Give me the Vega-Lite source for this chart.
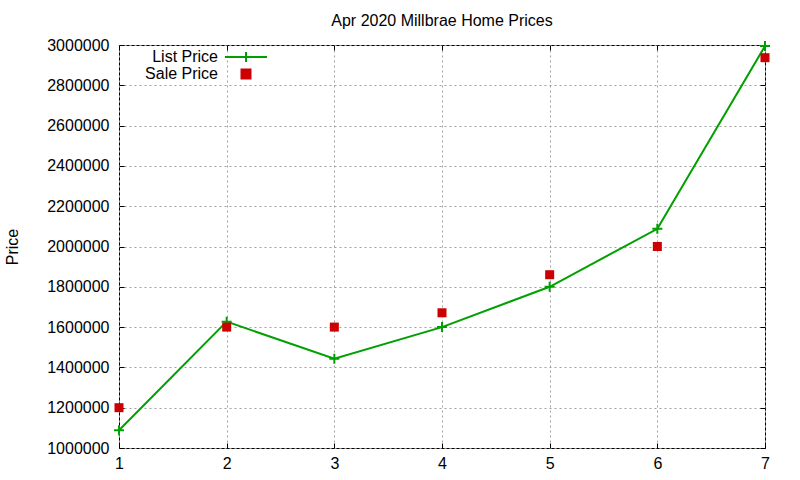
{
  "$schema": "https://vega.github.io/schema/vega-lite/v6.json",
  "width": 646,
  "height": 403,
  "autosize": "none",
  "padding": {"left": 119, "top": 45, "right": 35, "bottom": 32},
  "background": "white",
  "title": {"text": "Apr 2020 Millbrae Home Prices", "fontSize": 16, "fontWeight": "normal", "font": "Liberation Sans", "color": "black", "offset": 8},
  "config": {
    "view": {"stroke": "black", "strokeWidth": 1},
    "axis": {
      "labelFont": "Liberation Sans", "labelFontSize": 16, "labelColor": "black",
      "titleFont": "Liberation Sans", "titleFontSize": 16, "titleFontWeight": "normal", "titleColor": "black",
      "tickColor": "black", "tickSize": -5, "domain": false,
      "gridColor": "#a0a0a0", "gridDash": [2, 3], "gridOpacity": 1
    }
  },
  "data": {
    "values": [
      {"x": 1, "price": 1088000, "series": "List Price"},
      {"x": 2, "price": 1627000, "series": "List Price"},
      {"x": 3, "price": 1443000, "series": "List Price"},
      {"x": 4, "price": 1600000, "series": "List Price"},
      {"x": 5, "price": 1800000, "series": "List Price"},
      {"x": 6, "price": 2088000, "series": "List Price"},
      {"x": 7, "price": 2995000, "series": "List Price"},
      {"x": 1, "price": 1200000, "series": "Sale Price"},
      {"x": 2, "price": 1600000, "series": "Sale Price"},
      {"x": 3, "price": 1600000, "series": "Sale Price"},
      {"x": 4, "price": 1671000, "series": "Sale Price"},
      {"x": 5, "price": 1860000, "series": "Sale Price"},
      {"x": 6, "price": 2000000, "series": "Sale Price"},
      {"x": 7, "price": 2937000, "series": "Sale Price"}
    ]
  },
  "encoding": {
    "x": {
      "field": "x", "type": "quantitative",
      "scale": {"domain": [1, 7], "nice": false, "zero": false}
    },
    "y": {
      "field": "price", "type": "quantitative",
      "scale": {"domain": [1000000, 3000000], "nice": false, "zero": false}
    },
    "color": {
      "field": "series", "type": "nominal",
      "scale": {"domain": ["List Price", "Sale Price"], "range": ["#00a000", "#cc0000"]},
      "legend": {
        "title": null, "orient": "none", "legendX": 119, "legendY": 4,
        "padding": 0, "symbolSize": 100, "rowPadding": -2,
        "labelAlign": "right", "labelOffset": -36,
        "labelFont": "Liberation Sans", "labelFontSize": 16, "labelColor": "black",
        "encode": {
          "symbols": {
            "update": {
              "shape": {"signal": "datum.value === 'List Price' ? 'M-4.2,0H4.2M0,-1V1' : 'M-0.9,-0.9H0.9V0.9H-0.9Z'"},
              "fill": {"signal": "datum.value === 'List Price' ? 'transparent' : '#cc0000'"},
              "stroke": {"signal": "datum.value === 'List Price' ? '#00a000' : '#cc0000'"},
              "strokeWidth": {"value": 2},
              "opacity": {"value": 1}
            }
          }
        }
      }
    }
  },
  "layer": [
    {
      "transform": [{"filter": "datum.series === 'List Price'"}],
      "mark": {
        "type": "line", "strokeWidth": 2,
        "point": {"shape": "M-1,0H1M0,-1V1", "filled": false, "size": 100, "strokeWidth": 2}
      },
      "encoding": {
        "x": {
          "field": "x", "type": "quantitative",
          "axis": {"orient": "bottom", "title": null, "values": [1, 2, 3, 4, 5, 6, 7], "labelPadding": 12, "grid": true, "labelFlush": false}
        },
        "y": {
          "field": "price", "type": "quantitative",
          "axis": {
            "orient": "left", "title": "Price", "format": "d", "grid": true,
            "values": [1000000, 1200000, 1400000, 1600000, 1800000, 2000000, 2200000, 2400000, 2600000, 2800000, 3000000],
            "labelPadding": 15,
            "titleX": -107, "titleY": 201.5, "titleAngle": -90, "titleBaseline": "middle", "titleAlign": "center"
          }
        }
      }
    },
    {
      "transform": [{"filter": "datum.series === 'Sale Price'"}],
      "mark": {"type": "point", "shape": "square", "filled": true, "size": 81, "opacity": 1},
      "encoding": {
        "x": {
          "field": "x", "type": "quantitative",
          "axis": {"orient": "top", "title": null, "labels": false, "grid": false, "values": [1, 2, 3, 4, 5, 6, 7]}
        },
        "y": {
          "field": "price", "type": "quantitative",
          "axis": {
            "orient": "right", "title": null, "labels": false, "grid": false,
            "values": [1000000, 1200000, 1400000, 1600000, 1800000, 2000000, 2200000, 2400000, 2600000, 2800000, 3000000]
          }
        }
      }
    }
  ],
  "resolve": {"axis": {"x": "independent", "y": "independent"}}
}
